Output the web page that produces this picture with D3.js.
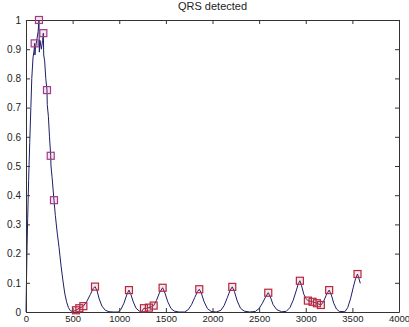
<!DOCTYPE html>
<html lang="en">
<head>
<meta charset="UTF-8">
<title>QRS detected</title>
<script src="https://d3js.org/d3.v7.min.js"></script>
<style>
    body { margin: 0; background: #fff; }
    svg { display: block; font-family: "Liberation Sans", Arial, sans-serif; }
    .axis text { font-size: 10px; fill: #222; }
    .axis.x text { font-size: 9.5px; }
    .axis path, .axis line { stroke: #333; }
</style>
</head>
<body>
<div id="chart"></div>
<script>
    // signal (sample index, normalised amplitude)
    const sigX = [0, 4, 10, 18, 28, 40, 52, 62, 75, 88, 93, 96, 100, 115, 130, 139, 143, 150, 165, 178, 186, 190, 200, 212, 225, 228, 240, 252, 265, 268, 280, 300, 315, 335, 355, 375, 395, 415, 435, 455, 475, 500, 536, 572, 615, 650, 690, 720, 740, 760, 785, 815, 850, 890, 940, 990, 1020, 1050, 1080, 1104, 1125, 1150, 1180, 1215, 1240, 1265, 1290, 1318, 1345, 1369, 1400, 1430, 1465, 1490, 1520, 1555, 1590, 1640, 1700, 1740, 1775, 1810, 1840, 1858, 1880, 1910, 1945, 1985, 2040, 2090, 2125, 2160, 2190, 2212, 2235, 2265, 2300, 2340, 2400, 2460, 2500, 2535, 2570, 2598, 2620, 2650, 2690, 2740, 2790, 2830, 2865, 2900, 2920, 2937, 2955, 2980, 3005, 3023, 3073, 3120, 3162, 3190, 3220, 3251, 3275, 3300, 3330, 3360, 3420, 3450, 3480, 3510, 3535, 3555, 3570, 3585];
    const sigY = [0, 0.08, 0.2, 0.32, 0.45, 0.58, 0.7, 0.8, 0.87, 0.9, 0.92, 0.88, 0.9, 0.93, 0.96, 1.0, 0.89, 0.93, 0.9, 0.93, 0.955, 0.88, 0.86, 0.8, 0.76, 0.71, 0.67, 0.6, 0.535, 0.5, 0.46, 0.383, 0.33, 0.27, 0.22, 0.16, 0.11, 0.065, 0.035, 0.015, 0.005, 0.001, 0.006, 0.013, 0.02, 0.035, 0.06, 0.08, 0.087, 0.075, 0.045, 0.02, 0.006, 0.001, 0, 0, 0.01, 0.03, 0.058, 0.075, 0.06, 0.035, 0.013, 0.003, 0.002, 0.013, 0.012, 0.015, 0.018, 0.022, 0.04, 0.065, 0.083, 0.065, 0.035, 0.012, 0.003, 0, 0, 0.008, 0.025, 0.05, 0.07, 0.078, 0.065, 0.035, 0.012, 0.002, 0, 0.006, 0.022, 0.05, 0.075, 0.086, 0.07, 0.038, 0.013, 0.003, 0, 0.002, 0.012, 0.03, 0.052, 0.066, 0.052, 0.025, 0.008, 0.001, 0.002, 0.015, 0.04, 0.075, 0.097, 0.107, 0.09, 0.06, 0.045, 0.039, 0.035, 0.03, 0.024, 0.035, 0.058, 0.075, 0.058, 0.03, 0.01, 0.002, 0.001, 0.015, 0.045, 0.085, 0.115, 0.13, 0.115, 0.098];

    // detected QRS points (square markers)
    const qrsX = [93, 139, 186, 225, 265, 300, 536, 572, 615, 740, 1104, 1265, 1318, 1369, 1465, 1858, 2212, 2598, 2937, 3023, 3073, 3120, 3162, 3251, 3555];
    const qrsY = [0.92, 1.0, 0.955, 0.76, 0.535, 0.383, 0.006, 0.013, 0.02, 0.087, 0.075, 0.013, 0.015, 0.022, 0.083, 0.078, 0.086, 0.066, 0.107, 0.039, 0.035, 0.03, 0.024, 0.075, 0.13];

    const xTicks = [0, 500, 1000, 1500, 2000, 2500, 3000, 3500, 4000];
    const yTicks = [0, 0.1, 0.2, 0.3, 0.4, 0.5, 0.6, 0.7, 0.8, 0.9, 1];
    const title = "QRS detected";

    const width = 409, height = 327;
    const margin = {top: 20, right: 10, bottom: 15, left: 26};

    const svg = d3.select("#chart").append("svg")
        .attr("width", width)
        .attr("height", height);

    const x = d3.scaleLinear().domain([0, 4000]).range([margin.left, width - margin.right]);
    const y = d3.scaleLinear().domain([0, 1]).range([height - margin.bottom, margin.top]);

    const fmt = d => String(+d.toFixed(1));

    // signal line
    const signal = sigX.map((d, i) => [d, sigY[i]]);
    const line = d3.line().x(d => x(d[0])).y(d => y(d[1]));
    svg.append("path")
        .datum(signal)
        .attr("fill", "none")
        .attr("stroke", "#1e1e6a")
        .attr("stroke-width", 1)
        .attr("d", line);

    // axes, matlab style box with inward ticks
    svg.append("g").attr("class", "axis x")
        .attr("transform", `translate(0,${y(0)})`)
        .call(d3.axisBottom(x).tickValues(xTicks).tickFormat(fmt).tickSizeInner(-4).tickSizeOuter(0).tickPadding(3));
    svg.append("g").attr("class", "axis")
        .attr("transform", `translate(0,${y(1)})`)
        .call(d3.axisTop(x).tickValues(xTicks).tickFormat("").tickSizeInner(-4).tickSizeOuter(0));
    svg.append("g").attr("class", "axis")
        .attr("transform", `translate(${x(0)},0)`)
        .call(d3.axisLeft(y).tickValues(yTicks).tickFormat(fmt).tickSizeInner(-4).tickSizeOuter(0).tickPadding(5));
    svg.append("g").attr("class", "axis")
        .attr("transform", `translate(${x(4000)},0)`)
        .call(d3.axisRight(y).tickValues(yTicks).tickFormat("").tickSizeInner(-4).tickSizeOuter(0));

    // markers
    const s = 7;
    svg.selectAll(".qrs")
        .data(qrsX.map((d, i) => [d, qrsY[i]]))
        .enter()
        .append("rect")
        .attr("class", "qrs")
        .attr("x", d => x(d[0]) - s / 2)
        .attr("y", d => y(d[1]) - s / 2)
        .attr("width", s)
        .attr("height", s)
        .attr("fill", "rgba(210,90,130,0.15)")
        .attr("stroke", d => d[1] > 0.3 ? "#a03c8c" : "#b8283c")
        .attr("stroke-width", 1.2);

    svg.append("text")
        .attr("x", (x(0) + x(4000)) / 2)
        .attr("y", 10)
        .attr("text-anchor", "middle")
        .style("font-size", "11px")
        .style("fill", "#222")
        .text(title);
</script>
</body>
</html>
